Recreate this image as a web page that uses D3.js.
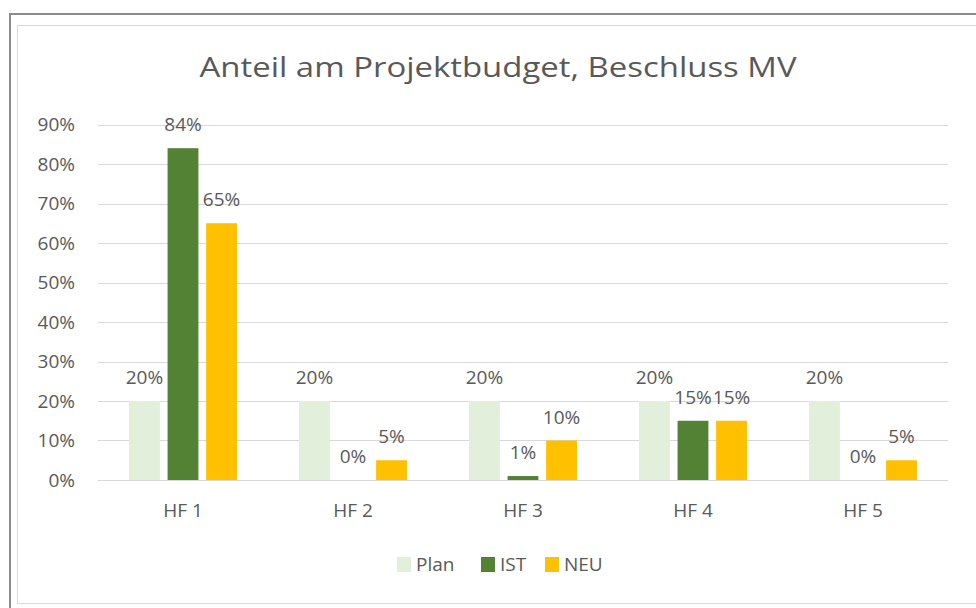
<!DOCTYPE html>
<html>
<head>
	<meta charset="utf-8">
	<title>Anteil am Projektbudget</title>
	<script type="text/javascript" src="https://d3js.org/d3.v7.min.js"></script>
	<style>
		body { margin: 0; background: #fff; }
		text { font-family: "Open Sans", "Noto Sans", sans-serif; fill: #595959; }
	</style>
</head>
<body>
<div id="container"></div>
<script type="text/javascript">

// data
var categories = ["HF 1", "HF 2", "HF 3", "HF 4", "HF 5"];
var seriesNames = ["Plan", "IST", "NEU"];
var planValues = [0.20, 0.20, 0.20, 0.20, 0.20];
var istValues  = [0.84, 0.00, 0.01, 0.15, 0.00];
var neuValues  = [0.65, 0.05, 0.10, 0.15, 0.05];
var yTicks = [0, 0.1, 0.2, 0.3, 0.4, 0.5, 0.6, 0.7, 0.8, 0.9];
var seriesColors = ["#E2EFDA", "#548235", "#FFC000"];

var width = 976, height = 608;
var plotLeft = 98, plotRight = 948, plotTop = 124.5, plotBottom = 480;
var fontSize = 19;

var svg = d3.select("#container").append("svg")
	.attr("width", width).attr("height", height);

// frame: outer dark line and inner light chart border
svg.append("path")
	.attr("d", "M10," + height + " L10,14 L" + width + ",14")
	.attr("fill", "none").attr("stroke", "#8c8c8c").attr("stroke-width", 2);
svg.append("rect")
	.attr("x", 17.5).attr("y", 25.5).attr("width", width).attr("height", 578)
	.attr("fill", "none").attr("stroke", "#d9d9d9").attr("stroke-width", 1);

// table built from the arrays
var rows = categories.map(function(c, i) {
	return { cat: c, vals: [planValues[i], istValues[i], neuValues[i]] };
});

var x0 = d3.scaleBand().domain(categories).range([plotLeft, plotRight])
	.paddingInner(0.365).paddingOuter(0.1825);
var x1 = d3.scaleBand().domain(seriesNames).range([0, x0.bandwidth()])
	.paddingInner(0.2);
var y = d3.scaleLinear().domain([0, 0.9]).range([plotBottom, plotTop]);

// gridlines
svg.append("g").selectAll("line").data(yTicks).enter().append("line")
	.attr("x1", plotLeft).attr("x2", plotRight)
	.attr("y1", function(d) { return Math.round(y(d)) + 0.5; })
	.attr("y2", function(d) { return Math.round(y(d)) + 0.5; })
	.attr("stroke", "#d9d9d9").attr("stroke-width", 1);

// y axis labels
var yAxis = d3.axisLeft(y).tickValues(yTicks).tickFormat(d3.format(".0%")).tickSize(0).tickPadding(0);
var yg = svg.append("g").attr("transform", "translate(75,0)").call(yAxis);
yg.select(".domain").remove();
yg.selectAll("text").attr("font-size", fontSize).attr("font-family", null).attr("fill", "#595959");

// x axis labels
var xAxis = d3.axisBottom(x0).tickSize(0).tickPadding(0);
var xg = svg.append("g").attr("transform", "translate(0,503)").call(xAxis);
xg.select(".domain").remove();
xg.selectAll("text").attr("font-size", fontSize).attr("font-family", null).attr("fill", "#595959");

// bars
var groups = svg.append("g").selectAll("g").data(rows).enter().append("g")
	.attr("transform", function(d) { return "translate(" + x0(d.cat) + ",0)"; });

var cells = function(d) {
	return d.vals.map(function(v, j) { return { s: seriesNames[j], v: v, j: j }; });
};

groups.selectAll("rect").data(cells).enter().append("rect")
	.attr("x", function(d) { return x1(d.s); })
	.attr("width", x1.bandwidth())
	.attr("y", function(d) { return y(d.v); })
	.attr("height", function(d) { return plotBottom - y(d.v); })
	.attr("fill", function(d) { return seriesColors[d.j]; });

// data labels
groups.selectAll("text.lbl").data(cells).enter().append("text")
	.attr("class", "lbl")
	.attr("x", function(d) { return x1(d.s) + x1.bandwidth() / 2; })
	.attr("y", function(d) { return y(d.v) - 17; })
	.attr("text-anchor", "middle")
	.attr("font-size", fontSize)
	.text(function(d) { return d3.format(".0%")(d.v); });

// title
svg.append("text")
	.attr("x", 498).attr("y", 77)
	.attr("text-anchor", "middle")
	.attr("font-size", 27)
	.attr("textLength", 597)
	.attr("lengthAdjust", "spacingAndGlyphs")
	.text("Anteil am Projektbudget, Beschluss MV");

// legend
var legendX = [397, 481, 545];
var legend = svg.append("g").selectAll("g").data(seriesNames).enter().append("g")
	.attr("transform", function(d, i) { return "translate(" + legendX[i] + ",557)"; });
legend.append("rect").attr("width", 14).attr("height", 15)
	.attr("fill", function(d, i) { return seriesColors[i]; });
legend.append("text").attr("x", 19).attr("y", 14).attr("font-size", fontSize)
	.text(function(d) { return d; });

</script>
</html>
